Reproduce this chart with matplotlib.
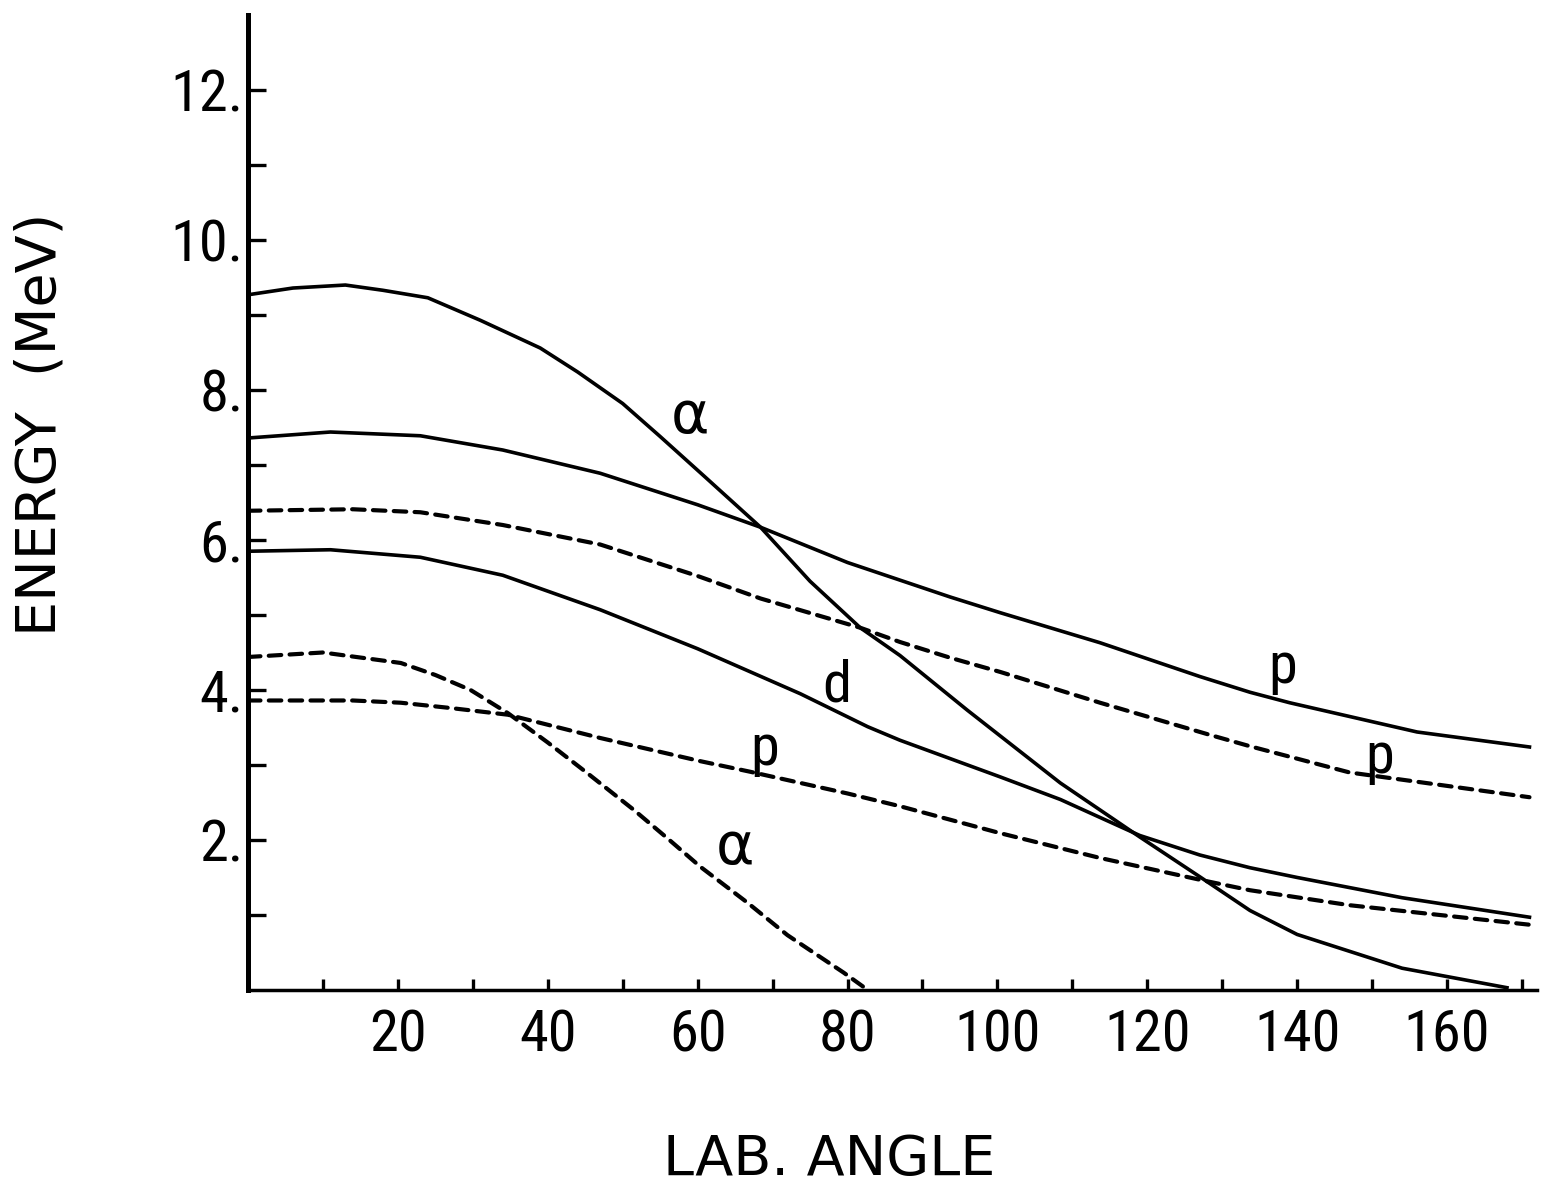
import matplotlib.pyplot as plt
from matplotlib import font_manager

# values (lab angle in degrees, energy in MeV)
alpha_x = [0, 6, 13, 18, 24, 31, 39, 44, 50, 55, 61, 68.4, 75, 81.7, 87, 96, 108.4, 119, 127, 133.7, 140, 154, 168]
alpha_y = [9.27, 9.36, 9.40, 9.33, 9.23, 8.93, 8.56, 8.24, 7.82, 7.38, 6.84, 6.17, 5.45, 4.83, 4.46, 3.73, 2.76, 2.04, 1.51, 1.06, 0.74, 0.29, 0.03]

p_hi_x = [0, 11, 23, 34, 47, 60, 68.4, 80, 93.7, 100.4, 113.7, 127, 133.7, 139, 156, 171]
p_hi_y = [7.36, 7.44, 7.39, 7.20, 6.89, 6.47, 6.17, 5.70, 5.24, 5.03, 4.63, 4.18, 3.97, 3.83, 3.44, 3.24]

p_hi_dash_x = [0, 14, 23, 34, 47, 60, 68.4, 81.7, 87, 93.7, 100.4, 113.7, 128.4, 133.7, 147, 171]
p_hi_dash_y = [6.39, 6.41, 6.37, 6.20, 5.94, 5.52, 5.22, 4.83, 4.64, 4.43, 4.24, 3.83, 3.40, 3.25, 2.90, 2.57]

d_x = [0, 11, 23, 34, 47, 60, 73.7, 82.7, 87, 100.4, 108.4, 119, 127, 133.7, 140, 154, 171]
d_y = [5.85, 5.87, 5.77, 5.53, 5.07, 4.55, 3.95, 3.51, 3.33, 2.84, 2.54, 2.06, 1.80, 1.63, 1.50, 1.23, 0.97]

p_lo_x = [0, 14, 20.4, 27, 34.7, 47, 60.4, 67, 80, 87, 100.4, 113.7, 127, 133.7, 147, 171]
p_lo_y = [3.86, 3.86, 3.83, 3.76, 3.67, 3.36, 3.05, 2.91, 2.62, 2.45, 2.09, 1.76, 1.47, 1.33, 1.13, 0.87]

alpha_dash_x = [0, 10, 20.4, 25, 29.7, 34.7, 40, 45.3, 51.5, 56, 60.4, 66.7, 72, 79.5, 82.7]
alpha_dash_y = [4.44, 4.50, 4.36, 4.20, 4.00, 3.69, 3.30, 2.89, 2.40, 2.02, 1.64, 1.16, 0.73, 0.23, 0.0]

y_major = [2, 4, 6, 8, 10, 12]
y_labels = ["2.", "4.", "6.", "8.", "10.", "12."]
x_major = [20, 40, 60, 80, 100, 120, 140, 160]

# pick a narrow face for the numbers if one is installed
names = {(f.name, f.stretch) for f in font_manager.fontManager.ttflist}
tick_font = dict(family='DejaVu Sans', size=36)
for nm in ['Roboto Condensed', 'Liberation Sans Narrow', 'Open Sans Condensed']:
    if any(n == nm for n, s in names):
        tick_font = dict(family=nm, size=42)
        break
else:
    if ('DejaVu Sans', 'condensed') in names or ('DejaVu Sans', 'semi-condensed') in names:
        tick_font = dict(family='DejaVu Sans', stretch='condensed', size=42)

plt.rcParams['font.family'] = ['DejaVu Sans']

fig = plt.figure(figsize=(15.45, 11.86), dpi=100)
ax = fig.add_axes([0.1605, 0.1653, 0.8343, 0.822])

lw = 2.6
ax.plot(alpha_x, alpha_y, color='black', lw=lw)
ax.plot(p_hi_x, p_hi_y, color='black', lw=lw)
ax.plot(d_x, d_y, color='black', lw=lw)
for xs, ys in [(p_hi_dash_x, p_hi_dash_y), (p_lo_x, p_lo_y), (alpha_dash_x, alpha_dash_y)]:
    ln, = ax.plot(xs, ys, color='black', lw=3.0)
    ln.set_dashes((3.0, 2.0))
    ln.set_dash_capstyle('round')

# curve labels
lab_kw = dict(fontsize=42, ha='center', va='center', family=[tick_font['family'], 'DejaVu Sans'])
greek_kw = dict(fontsize=42, ha='center', va='center', family='DejaVu Sans')
ax.text(59, 7.65, "α", **greek_kw)
ax.text(138, 4.3, "p", **lab_kw)
ax.text(151, 3.1, "p", **lab_kw)
ax.text(78.5, 4.05, "d", **lab_kw)
ax.text(69, 3.2, "p", **lab_kw)
ax.text(65, 1.9, "α", **greek_kw)

ax.set_xlim(0, 172)
ax.set_ylim(0, 13)
ax.spines['top'].set_visible(False)
ax.spines['right'].set_visible(False)
ax.spines['left'].set_linewidth(3.6)
ax.spines['bottom'].set_linewidth(2.5)

ax.set_yticks(y_major)
ax.set_yticklabels(y_labels, fontdict=tick_font)
ax.set_yticks(range(1, 13, 2), minor=True)
ax.set_xticks(x_major)
ax.set_xticklabels([str(v) for v in x_major], fontdict=tick_font)
ax.set_xticks(range(10, 171, 20), minor=True)
ax.tick_params(axis='y', which='both', direction='in', length=13, width=2.4, pad=3)
ax.tick_params(axis='x', which='both', direction='in', length=8, width=2.4, pad=13)

fig.text(0.026, 0.642, "ENERGY  (MeV)", rotation=90, fontsize=40, ha='center', va='center')
fig.text(0.537, 0.022, "LAB. ANGLE", fontsize=40, ha='center', va='center')

fig.savefig("out.png", dpi=100)
